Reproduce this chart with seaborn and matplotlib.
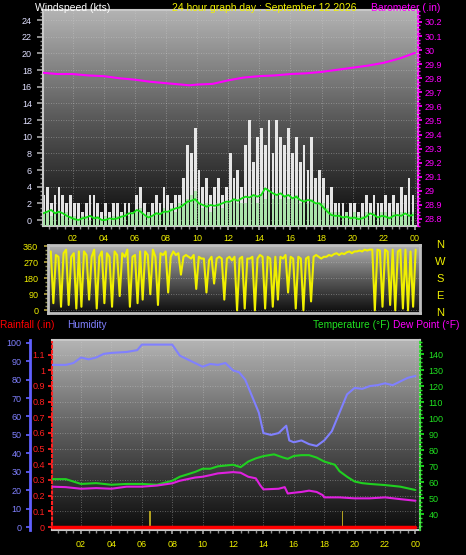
import numpy as np
import seaborn as sns
import matplotlib.pyplot as plt
from matplotlib.colors import LinearSegmentedColormap
from matplotlib.ticker import MultipleLocator

# ---- data (24 h, one day) ----
# wind speed, 15 minute samples
wind_hours = np.arange(0.125, 24, 0.25)
wind_gust = [3, 4, 2, 3, 4, 3, 2, 3,
             2, 2, 1, 2, 3, 3, 2, 1,
             2, 1, 2, 2, 1, 2, 2, 1,
             3, 4, 2, 1, 2, 3, 2, 4,
             3, 2, 3, 3, 5, 9, 8, 11,
             6, 4, 5, 3, 4, 5, 3, 4,
             8, 5, 6, 4, 9, 12, 7, 10,
             11, 9, 12, 8, 12, 10, 9, 11,
             8, 10, 7, 9, 6, 10, 5, 6,
             5, 3, 4, 2, 2, 2, 1, 2,
             2, 1, 2, 3, 2, 3, 2, 2,
             3, 2, 3, 2, 4, 3, 5, 3]
wind_avg_bars = [1, 1, 0.5, 1, 1, 0.5, 1, 0.5,
                 0.5, 0, 0.5, 0.5, 0, 0.5, 0.5, 0,
                 0.5, 0, 0.5, 0.5, 0.5, 1, 0.5, 1,
                 1, 1.5, 0.5, 1, 0.5, 1, 1, 1.5,
                 1, 1.5, 1, 2, 2, 2.5, 3, 3.5,
                 2, 1.5, 2, 1, 1.5, 2, 1.5, 2,
                 2, 2.5, 2, 2, 2, 2.5, 3, 2,
                 3, 2.5, 3.5, 2.5, 3, 2.5, 3, 2.5,
                 2.5, 3, 2, 2.5, 2, 2.5, 2, 2,
                 2, 1.5, 1, 1, 1, 0.5, 1, 0.5,
                 1, 0.5, 0.5, 1, 0.5, 1, 0.5, 1,
                 1, 0.5, 1, 0.5, 1, 0.5, 1, 1]
wind_avg = [0.8, 1.0, 1.2, 0.8, 1.0, 0.8, 0.5, 0.3,
            0.1, 0.0, 0.2, 0.3, 0.5, 0.2, 0.3, 0.0,
            0.0, 0.2, 0.1, 0.2, 0.4, 0.5, 0.8, 0.8,
            1.2, 1.0, 0.6, 0.3, 0.5, 0.8, 0.7, 1.0,
            1.0, 1.2, 1.4, 1.5, 1.8, 2.2, 2.3, 2.5,
            2.0, 1.8, 1.6, 1.8, 1.7, 1.8, 2.0, 2.2,
            2.2, 2.5, 2.3, 2.6, 2.8, 2.7, 3.0, 2.8,
            3.0, 3.8, 3.5, 3.2, 3.0, 3.2, 2.8, 3.0,
            2.6, 2.8, 2.4, 2.2, 2.4, 2.3, 2.0, 2.0,
            1.5, 1.0, 0.6, 0.5, 0.5, 0.3, 0.4, 0.2,
            0.3, 0.1, 0.2, 0.4, 0.8, 0.6, 0.3, 0.5,
            0.4, 0.2, 0.5, 0.6, 0.5, 0.8, 0.5, 0.6]

# wind direction, 10 minute samples
dir_hours = np.arange(1 / 12, 24, 1 / 6)
wind_dir = [330, 40, 310, 300, 20, 320,
            340, 30, 300, 320, 10, 330,
            20, 330, 310, 60, 300, 340,
            10, 300, 330, 40, 320, 300,
            20, 330, 310, 80, 320, 300,
            340, 20, 300, 310, 40, 330,
            60, 330, 310, 90, 340, 300,
            30, 320, 310, 330, 100, 300,
            330, 310, 320, 200, 300, 310,
            300, 290, 310, 120, 300, 290,
            290, 100, 280, 300, 150, 290,
            300, 290, 60, 290, 300, 280,
            300, 0, 290, 300, 10, 290,
            290, 300, 0, 290, 310, 300,
            10, 300, 290, 20, 300, 60,
            300, 290, 310, 100, 300, 290,
            10, 300, 290, 0, 290, 300,
            50, 300, 310, 300, 290, 300,
            300, 310, 305, 315, 320, 310,
            320, 315, 325, 330, 320, 330,
            330, 335, 330, 340, 335, 340,
            340, 0, 340, 335, 20, 340,
            330, 30, 340, 0, 330, 340,
            10, 340, 0, 330, 20, 340]

baro_hours = [0, 1, 2, 3, 4, 5, 6, 7, 8, 9, 9.5, 10, 11, 12, 13, 14, 15, 16,
              17, 18, 19, 20, 21, 22, 23, 24]
baro = [29.84, 29.83, 29.83, 29.82, 29.815, 29.80, 29.79, 29.775, 29.765,
        29.755, 29.75, 29.755, 29.76, 29.785, 29.805, 29.815, 29.82, 29.83,
        29.835, 29.845, 29.86, 29.875, 29.89, 29.91, 29.94, 29.98]

hum_hours = [0, 1, 1.5, 2, 2.5, 3, 3.5, 4, 5, 5.7, 6, 7, 8, 8.5, 9, 9.5, 10,
             10.5, 11, 11.5, 12, 12.4, 12.8, 13.3, 13.7, 14, 14.5, 15, 15.5,
             15.7, 16, 16.5, 17, 17.5, 18, 18.5, 19, 19.5, 20, 20.5, 21, 21.5,
             22, 22.5, 23, 23.5, 24]
humidity = [88, 88, 89, 92, 91, 92, 94, 94.5, 95, 96, 99, 99, 99, 93, 91, 89,
            87, 88.5, 88, 89, 85, 84, 80, 70, 62, 51, 50, 51, 55, 47, 46, 47,
            45, 44, 47, 52, 62, 72, 75.5, 75, 76.5, 77, 78, 77, 79, 81, 82]

temp_hours = [0, 1, 2, 3, 4, 5, 6, 7, 8, 8.5, 9, 9.5, 10, 10.5, 11, 11.5, 12,
              12.5, 13, 13.5, 14, 14.7, 15.3, 15.6, 16, 16.5, 17, 17.5, 18,
              18.7, 19, 19.5, 20, 20.5, 21, 22, 23, 24]
temperature = [62, 62, 59, 59.5, 58.5, 59, 59, 58.5, 61, 63.5, 65, 66.5, 68.5,
               68.5, 70, 70.5, 71, 69.5, 73, 75, 76.4, 77.5, 75.5, 74.7, 76.5,
               77, 77, 75.5, 73, 71, 67, 63.5, 60.5, 59.5, 59, 58.3, 57.3,
               55.2]

dew_hours = [0, 1, 2, 3, 4, 5, 6, 7, 8, 8.5, 9, 9.5, 10, 10.5, 11, 11.5, 12,
             12.5, 13, 13.5, 13.8, 14, 15, 15.4, 15.6, 16, 16.5, 17, 17.5,
             17.9, 18, 19, 20, 21, 22, 23, 24]
dew_point = [57.3, 57, 56, 56.4, 56, 57.3, 57.3, 58, 59.4, 61, 62, 63, 63.5,
             64.5, 65.6, 66, 66.4, 66, 63.5, 62.5, 58, 55.6, 56, 57, 53, 53.5,
             54, 54.8, 54, 52, 50.6, 50.6, 50, 50, 50.6, 49.5, 48.5]

rain_hours = [0, 24]
rainfall = [0, 0]
marker_hours = [6.55, 19.2]
marker_heights = [0.1, 0.1]

hour_ticks = list(range(2, 25, 2))
hour_labels = ["02", "04", "06", "08", "10", "12", "14", "16", "18", "20", "22", "00"]
wind_ticks = list(range(0, 25, 2))
baro_ticks = [28.8, 28.9, 29.0, 29.1, 29.2, 29.3, 29.4, 29.5, 29.6, 29.7, 29.8,
              29.9, 30.0, 30.1, 30.2]
dir_ticks = [0, 90, 180, 270, 360]
compass = ["N", "W", "S", "E", "N"]
hum_ticks = list(range(0, 101, 10))
rain_ticks = [0, 0.1, 0.2, 0.3, 0.4, 0.5, 0.6, 0.7, 0.8, 0.9, 1.0, 1.1]
temp_ticks = list(range(40, 141, 10))

# ---- styling ----
sns.set_theme(style="dark")
plt.rcParams['font.family'] = ['Liberation Sans', 'DejaVu Sans']
plt.rcParams['axes.facecolor'] = 'black'

W, H = 466, 555
PT = 72 / 100  # points per pixel
YELLOW = '#f0f000'
MAGENTA = '#ff00ff'
HUMBLUE = '#8080ff'
TGREEN = '#20e020'
GRID = dict(color='#d0d0d0', linestyle=(0, (1, 2)), linewidth=0.6, alpha=0.5)
bg_cmap = LinearSegmentedColormap.from_list('bg', ['#0c0c0c', '#5a5a5a', '#b4b4b4'])


def box(l, t, r, b):
    return [l / W, 1 - b / H, (r - l) / W, (b - t) / H]


def gradient(ax):
    grad = np.linspace(0, 1, 256).reshape(-1, 1)
    ax.imshow(grad, extent=[0, 1, 0, 1], transform=ax.transAxes, origin='lower',
              aspect='auto', cmap=bg_cmap, zorder=0)


def hour_axis(ax, pad):
    ax.set_xticks(hour_ticks)
    ax.set_xticklabels(hour_labels)
    ax.xaxis.set_minor_locator(MultipleLocator(0.5))
    ax.tick_params(axis='x', which='major', colors='#a0a0a0', labelcolor=YELLOW,
                   labelsize=6.5, length=3, pad=pad, bottom=True)
    ax.tick_params(axis='x', which='minor', colors='#909090', length=2, bottom=True)
    ax.grid(axis='x', **GRID)


fig = plt.figure(figsize=(W / 100, H / 100), dpi=100, facecolor='black')

# ---------------- wind speed / barometer ----------------
ax1 = fig.add_axes(box(43, 10, 418, 226))
gradient(ax1)
w_low, w_high = -0.72, 25.2
ax1.bar(wind_hours, np.array(wind_gust) - w_low, bottom=w_low, width=0.18,
        color='#f4f4f4', alpha=0.93, linewidth=0, zorder=2)
ax1.bar(wind_hours, np.array(wind_avg_bars) - w_low, bottom=w_low, width=0.18,
        color='#a8e4a8', alpha=0.95, linewidth=0, zorder=3)
sns.lineplot(x=wind_hours, y=wind_avg, ax=ax1, color='#10e010', linewidth=1.3, zorder=4)
ax1.set_xlim(0.1, 24.2)
ax1.set_ylim(w_low, w_high)
hour_axis(ax1, 3)
ax1.set_yticks(wind_ticks)
ax1.yaxis.set_minor_locator(MultipleLocator(0.5))
ax1.tick_params(axis='y', which='major', colors='#a0a0a0', labelcolor='#e0e0ff',
                labelsize=6.5, length=4, pad=4, left=True)
ax1.tick_params(axis='y', which='minor', colors='#909090', length=2, left=True)
ax1.grid(axis='y', **GRID)
for s in ax1.spines.values():
    s.set_color('#c8c8c8')
    s.set_linewidth(1.5)

ax1b = ax1.twinx()
sns.lineplot(x=baro_hours, y=baro, ax=ax1b, color=MAGENTA, linewidth=1.5)
ax1b.set_ylim(28.75, 30.285)
ax1b.set_yticks(baro_ticks)
ax1b.set_yticklabels([f"{v:g}" for v in baro_ticks])
ax1b.yaxis.set_minor_locator(MultipleLocator(0.025))
ax1b.tick_params(axis='y', which='major', colors=MAGENTA, labelcolor=MAGENTA,
                 labelsize=6.5, length=3, pad=2, right=True)
ax1b.tick_params(axis='y', which='minor', colors=MAGENTA, length=1.5, right=True)
ax1b.grid(False)
ax1b.spines['right'].set_color(MAGENTA)
ax1b.spines['right'].set_linestyle((0, (1, 1.5)))
for side in ['left', 'top', 'bottom']:
    ax1b.spines[side].set_visible(False)
ax1b.set_ylabel('')

# ---------------- wind direction ----------------
ax2 = fig.add_axes(box(48, 245, 420, 313))
gradient(ax2)
sns.lineplot(x=dir_hours, y=wind_dir, ax=ax2, color=YELLOW, linewidth=1.5, zorder=3)
ax2.set_xlim(-0.1, 24.2)
ax2.set_ylim(-15, 366)
ax2.set_xticks([])
ax2.set_yticks(dir_ticks)
ax2.yaxis.set_minor_locator(MultipleLocator(22.5))
ax2.tick_params(axis='y', which='major', colors='#b0a040', labelcolor=YELLOW,
                labelsize=6.5, length=3, pad=4, left=True)
ax2.tick_params(axis='y', which='minor', colors='#909050', length=2, left=True)
ax2.grid(axis='y', **GRID)
for s in ax2.spines.values():
    s.set_color('#c0c0c0')
    s.set_linewidth(2)
for lab, yp in zip(compass, [245, 262, 279, 296, 313]):
    fig.text(440 / W, 1 - yp / H, lab, color=YELLOW, fontsize=8, ha='center', va='center')

# ---------------- rain / humidity / temperature ----------------
ax3 = fig.add_axes(box(52, 340, 420, 530))
gradient(ax3)
ax3.bar(marker_hours, marker_heights, width=0.1, color='#b0a020', linewidth=0, zorder=2)
sns.lineplot(x=rain_hours, y=rainfall, ax=ax3, color='#ff0000', linewidth=2.5, zorder=3)
ax3.set_xlim(0.09, 24.3)
ax3.set_ylim(-0.019, 1.193)
hour_axis(ax3, 4)
ax3.set_yticks(rain_ticks)
ax3.set_yticklabels([f"{v:g}" for v in rain_ticks])
ax3.tick_params(axis='y', which='major', colors='#ff2020', labelcolor='#ff2020',
                labelsize=6.5, length=3, pad=2, left=True)
ax3.grid(axis='y', **GRID)
for s in ax3.spines.values():
    s.set_color('#c8c8c8')
    s.set_linewidth(1.5)
ax3.spines['left'].set_color('#ff2020')
ax3.spines['left'].set_linestyle((0, (1, 1.5)))

ax3h = ax3.twinx()
sns.lineplot(x=hum_hours, y=humidity, ax=ax3h, color=HUMBLUE, linewidth=1.5)
ax3h.set_ylim(-1.6, 101.5)
ax3h.yaxis.set_ticks_position('left')
ax3h.spines['left'].set_visible(True)
ax3h.spines['left'].set_position(('outward', 22 * PT))
ax3h.spines['left'].set_color('#6060ff')
ax3h.spines['left'].set_linewidth(2)
for side in ['right', 'top', 'bottom']:
    ax3h.spines[side].set_visible(False)
ax3h.set_yticks(hum_ticks)
ax3h.tick_params(axis='y', colors='#6060ff', labelcolor=HUMBLUE, labelsize=6.5,
                 length=3, pad=3, left=True, right=False)
ax3h.grid(False)
ax3h.set_ylabel('')

ax3t = ax3.twinx()
sns.lineplot(x=temp_hours, y=temperature, ax=ax3t, color='#20d020', linewidth=1.5)
sns.lineplot(x=dew_hours, y=dew_point, ax=ax3t, color='#e020e0', linewidth=1.5)
ax3t.set_ylim(30.2, 149)
ax3t.set_yticks(temp_ticks)
ax3t.yaxis.set_minor_locator(MultipleLocator(2.5))
ax3t.tick_params(axis='y', which='major', colors=TGREEN, labelcolor=TGREEN,
                 labelsize=6.5, length=3, pad=3, right=True)
ax3t.tick_params(axis='y', which='minor', colors=TGREEN, length=1.5, right=True)
ax3t.grid(False)
ax3t.spines['right'].set_color(TGREEN)
ax3t.spines['right'].set_linestyle((0, (1, 1.5)))
for side in ['left', 'top', 'bottom']:
    ax3t.spines[side].set_visible(False)
ax3t.set_ylabel('')


# ---------------- header texts ----------------
def label(x, y, s, c, size=7.5):
    fig.text(x / W, 1 - y / H, s, color=c, fontsize=size, ha='left', va='center')


label(35, 8, "Windspeed (kts)", 'white')
label(172, 8, "24 hour graph day : September 12 2026", YELLOW)
label(371, 8, "Barometer (.in)", MAGENTA)
label(0, 325, "Rainfall (.in)", '#ff0000', 7.3)
label(67, 325, "Humidity", HUMBLUE, 7.3)
label(313, 325, "Temperature (°F)", TGREEN, 7.3)
label(393, 325, "Dew Point (°F)", MAGENTA, 7.3)

fig.savefig('out.png', dpi=100, facecolor='black')
